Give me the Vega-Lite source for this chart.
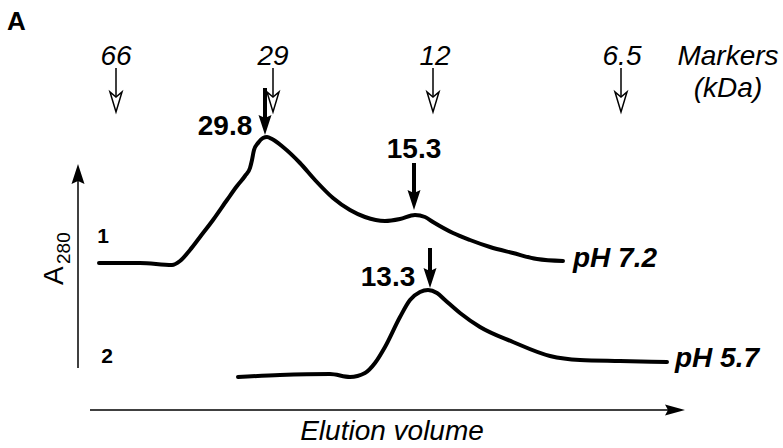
{
  "$schema": "https://vega.github.io/schema/vega-lite/v6.json",
  "width": 783,
  "height": 448,
  "autosize": {"type": "fit", "contains": "padding"},
  "padding": 0,
  "background": "white",
  "config": {"view": {"stroke": null}},
  "datasets": {
    "curves": [
      {"curve": "1", "x": 99, "y": 185}, {"curve": "1", "x": 140, "y": 185}, {"curve": "1", "x": 172, "y": 183},
      {"curve": "1", "x": 180, "y": 187}, {"curve": "1", "x": 190, "y": 198}, {"curve": "1", "x": 200, "y": 211},
      {"curve": "1", "x": 213, "y": 228}, {"curve": "1", "x": 227, "y": 248}, {"curve": "1", "x": 237, "y": 262},
      {"curve": "1", "x": 245, "y": 272}, {"curve": "1", "x": 250, "y": 280}, {"curve": "1", "x": 252, "y": 288},
      {"curve": "1", "x": 254, "y": 298}, {"curve": "1", "x": 258, "y": 305}, {"curve": "1", "x": 263, "y": 310},
      {"curve": "1", "x": 267, "y": 311}, {"curve": "1", "x": 272, "y": 309}, {"curve": "1", "x": 283, "y": 301},
      {"curve": "1", "x": 300, "y": 285}, {"curve": "1", "x": 315, "y": 268}, {"curve": "1", "x": 333, "y": 250},
      {"curve": "1", "x": 350, "y": 238}, {"curve": "1", "x": 365, "y": 231}, {"curve": "1", "x": 385, "y": 227},
      {"curve": "1", "x": 400, "y": 229}, {"curve": "1", "x": 415, "y": 233}, {"curve": "1", "x": 425, "y": 231},
      {"curve": "1", "x": 433, "y": 226}, {"curve": "1", "x": 453, "y": 215}, {"curve": "1", "x": 470, "y": 208},
      {"curve": "1", "x": 490, "y": 201}, {"curve": "1", "x": 513, "y": 195}, {"curve": "1", "x": 537, "y": 189},
      {"curve": "1", "x": 563, "y": 187},
      {"curve": "2", "x": 238, "y": 71}, {"curve": "2", "x": 280, "y": 73}, {"curve": "2", "x": 330, "y": 74},
      {"curve": "2", "x": 350, "y": 71}, {"curve": "2", "x": 365, "y": 75},
      {"curve": "2", "x": 375, "y": 85}, {"curve": "2", "x": 385, "y": 101}, {"curve": "2", "x": 400, "y": 131},
      {"curve": "2", "x": 410, "y": 148}, {"curve": "2", "x": 420, "y": 156}, {"curve": "2", "x": 428, "y": 158},
      {"curve": "2", "x": 437, "y": 155}, {"curve": "2", "x": 445, "y": 148}, {"curve": "2", "x": 460, "y": 135},
      {"curve": "2", "x": 480, "y": 121}, {"curve": "2", "x": 513, "y": 106}, {"curve": "2", "x": 550, "y": 92},
      {"curve": "2", "x": 580, "y": 88}, {"curve": "2", "x": 620, "y": 87}, {"curve": "2", "x": 667, "y": 86}
    ],
    "markerShafts": [
      {"marker": "66", "x": 116, "y": 380, "y2": 350},
      {"marker": "29", "x": 273, "y": 380, "y2": 350},
      {"marker": "12", "x": 433, "y": 380, "y2": 350},
      {"marker": "6.5", "x": 621, "y": 380, "y2": 350}
    ],
    "markerHeads": [
      {"marker": "66", "x": 116, "y": 346},
      {"marker": "29", "x": 273, "y": 346},
      {"marker": "12", "x": 433, "y": 346},
      {"marker": "6.5", "x": 621, "y": 346}
    ],
    "peakShafts": [
      {"peak": "29.8", "x": 265, "y": 360, "y2": 328},
      {"peak": "15.3", "x": 414, "y": 285, "y2": 253},
      {"peak": "13.3", "x": 430, "y": 200, "y2": 176}
    ],
    "peakHeads": [
      {"peak": "29.8", "x": 265, "y": 323},
      {"peak": "15.3", "x": 414, "y": 248},
      {"peak": "13.3", "x": 430, "y": 170}
    ],
    "hAxis": [{"x": 90, "x2": 672, "y": 38}],
    "hHead": [{"x": 675, "y": 38}],
    "vAxis": [{"x": 78, "y": 80, "y2": 268}],
    "vHead": [{"x": 78, "y": 274}],
    "italicText": [
      {"label": "66", "x": 116, "y": 383},
      {"label": "29", "x": 273, "y": 383},
      {"label": "12", "x": 435, "y": 383},
      {"label": "6.5", "x": 622, "y": 383},
      {"label": "Markers", "x": 728, "y": 383},
      {"label": "(kDa)", "x": 728, "y": 351},
      {"label": "Elution volume", "x": 392, "y": 8}
    ],
    "boldNumbers": [
      {"label": "29.8", "x": 225, "y": 313},
      {"label": "15.3", "x": 414, "y": 290},
      {"label": "13.3", "x": 388, "y": 162}
    ],
    "curveNumbers": [
      {"label": "1", "x": 103, "y": 205},
      {"label": "2", "x": 107, "y": 85}
    ],
    "panel": [{"label": "A", "x": 7, "y": 418}],
    "phLabels": [
      {"label": "pH 7.2", "x": 573, "y": 181},
      {"label": "pH 5.7", "x": 675, "y": 81}
    ],
    "yLabelA": [{"label": "A", "x": 63, "y": 163}],
    "yLabelSub": [{"label": "280", "x": 70, "y": 184}]
  },
  "encoding": {
    "x": {"field": "x", "type": "quantitative", "scale": {"domain": [0, 783], "nice": false}, "axis": null},
    "y": {"field": "y", "type": "quantitative", "scale": {"domain": [0, 448], "nice": false}, "axis": null}
  },
  "layer": [
    {
      "data": {"name": "curves"},
      "mark": {"type": "line", "color": "black", "strokeWidth": 4, "interpolate": "monotone", "strokeCap": "round", "strokeJoin": "round"},
      "encoding": {"detail": {"field": "curve", "type": "nominal"}}
    },
    {
      "data": {"name": "markerShafts"},
      "mark": {"type": "rule", "color": "black", "strokeWidth": 1.5},
      "encoding": {"y2": {"field": "y2"}}
    },
    {
      "data": {"name": "markerHeads"},
      "mark": {"type": "point", "shape": "M-0.6,-1L0,1L0.6,-1L0,-0.5Z", "size": 400, "filled": false, "color": "black", "strokeWidth": 1.5, "opacity": 1, "fill": "white", "fillOpacity": 1}
    },
    {
      "data": {"name": "peakShafts"},
      "mark": {"type": "rule", "color": "black", "strokeWidth": 4},
      "encoding": {"y2": {"field": "y2"}}
    },
    {
      "data": {"name": "peakHeads"},
      "mark": {"type": "point", "shape": "M-0.65,-1L0,1L0.65,-1L0,-0.7Z", "size": 400, "filled": true, "color": "black", "opacity": 1}
    },
    {
      "data": {"name": "hAxis"},
      "mark": {"type": "rule", "color": "black", "strokeWidth": 1.5},
      "encoding": {"x2": {"field": "x2"}}
    },
    {
      "data": {"name": "hHead"},
      "mark": {"type": "point", "shape": "M-1,-0.55L1,0L-1,0.55L-0.7,0Z", "size": 400, "filled": true, "color": "black", "opacity": 1}
    },
    {
      "data": {"name": "vAxis"},
      "mark": {"type": "rule", "color": "black", "strokeWidth": 1.5},
      "encoding": {"y2": {"field": "y2"}}
    },
    {
      "data": {"name": "vHead"},
      "mark": {"type": "point", "shape": "M-0.65,1L0,-1L0.65,1L0,0.7Z", "size": 400, "filled": true, "color": "black", "opacity": 1}
    },
    {
      "data": {"name": "italicText"},
      "mark": {"type": "text", "font": "Liberation Sans", "fontStyle": "italic", "fontSize": 28, "align": "center", "baseline": "alphabetic", "color": "black"},
      "encoding": {"text": {"field": "label"}}
    },
    {
      "data": {"name": "boldNumbers"},
      "mark": {"type": "text", "font": "Liberation Sans", "fontWeight": "bold", "fontSize": 28, "align": "center", "baseline": "alphabetic", "color": "black"},
      "encoding": {"text": {"field": "label"}}
    },
    {
      "data": {"name": "curveNumbers"},
      "mark": {"type": "text", "font": "Liberation Sans", "fontWeight": "bold", "fontSize": 21, "align": "center", "baseline": "alphabetic", "color": "black"},
      "encoding": {"text": {"field": "label"}}
    },
    {
      "data": {"name": "panel"},
      "mark": {"type": "text", "font": "Liberation Sans", "fontWeight": "bold", "fontSize": 26, "align": "left", "baseline": "alphabetic", "color": "black"},
      "encoding": {"text": {"field": "label"}}
    },
    {
      "data": {"name": "phLabels"},
      "mark": {"type": "text", "font": "Liberation Sans", "fontWeight": "bold", "fontStyle": "italic", "fontSize": 28, "align": "left", "baseline": "alphabetic", "color": "black"},
      "encoding": {"text": {"field": "label"}}
    },
    {
      "data": {"name": "yLabelA"},
      "mark": {"type": "text", "font": "Liberation Sans", "fontSize": 28, "angle": 270, "align": "left", "baseline": "alphabetic", "color": "black"},
      "encoding": {"text": {"field": "label"}}
    },
    {
      "data": {"name": "yLabelSub"},
      "mark": {"type": "text", "font": "Liberation Sans", "fontSize": 19, "angle": 270, "align": "left", "baseline": "alphabetic", "color": "black"},
      "encoding": {"text": {"field": "label"}}
    }
  ]
}
